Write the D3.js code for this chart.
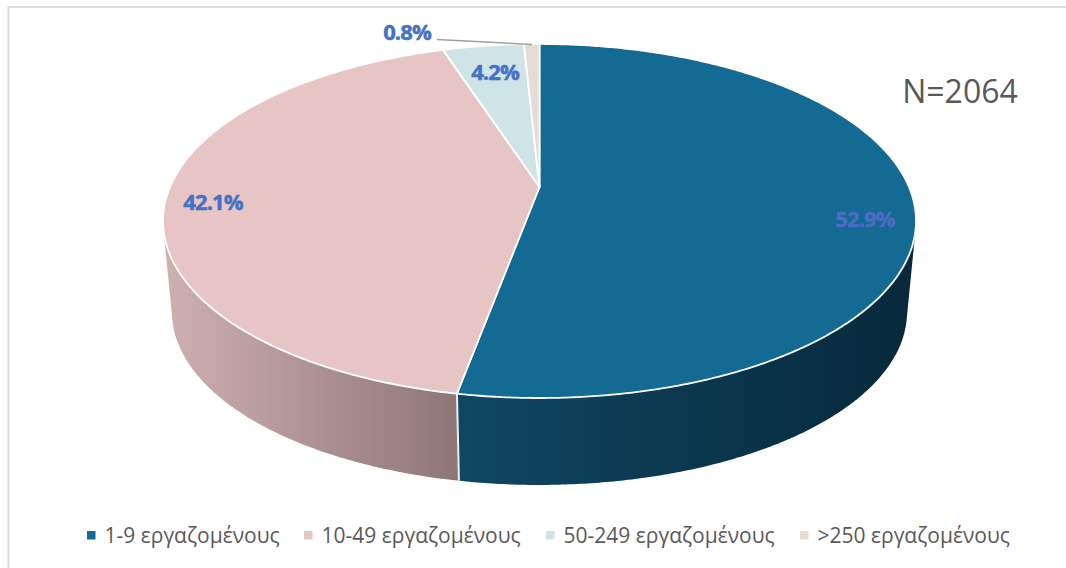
<!DOCTYPE html>
<html>
<head>
<meta charset="utf-8">
<script src="https://cdn.jsdelivr.net/npm/d3@7"></script>
<style>
html, body { margin: 0; padding: 0; background: #fff; }
svg { display: block; }
text { font-family: "Open Sans", sans-serif; }
</style>
</head>
<body>
<svg id="chart" width="1066" height="568"></svg>
<script>
const categories = ["1-9 εργαζομένους", "10-49 εργαζομένους", "50-249 εργαζομένους", ">250 εργαζομένους"];
const shares = [52.9, 42.1, 4.2, 0.8];
const faceColors = ["#136a92", "#e8c5c5", "#cfe4e6", "#e5dcd6"];
const wallFrom = ["#0f4763", "#cfb0b0", "#a0b4b6", "#b8b0aa"];
const wallTo = ["#07283a", "#8f7676", "#a0b4b6", "#b8b0aa"];
const sampleTotal = "N=2064";

const width = 1066, height = 568;
const apex = { x: 539.5, y: 187 };
// the tilted disc: a projective map of the unit circle, so the slice tips meet off-centre
const tilt = 0.192, spreadX = 369.5, spreadY = 170.5;
const wallDrop = 92, wallShrink = 0.976;

const svg = d3.select("#chart");

function project(r, angle, floor) {
    let X = r * Math.sin(angle), Y = -r * Math.cos(angle);
    let w = 1 - tilt * Y;
    let s = floor ? wallShrink : 1;
    return [
        apex.x + s * spreadX * X / w,
        apex.y + s * spreadY * Y / w + (floor ? wallDrop : 0)
    ];
}

function rim(a0, a1, floor) {
    let n = Math.max(2, Math.ceil(Math.abs(a1 - a0) * 120));
    return d3.range(n + 1).map(i => project(1, a0 + (a1 - a0) * i / n, floor));
}

const pie = d3.pie().sort(null).value(d => d);
const arcs = pie(shares);
const line = d3.line();

// frame
svg.append("rect")
    .attr("x", 8.5).attr("y", 7)
    .attr("width", 1080).attr("height", 600)
    .attr("fill", "none")
    .attr("stroke", "#dcdcdc").attr("stroke-width", 2);

const defs = svg.append("defs");
arcs.forEach((d, i) => {
    let xs = rim(d.startAngle, d.endAngle, false).map(p => p[0]);
    let grad = defs.append("linearGradient")
        .attr("id", "wall" + i)
        .attr("gradientUnits", "userSpaceOnUse")
        .attr("x1", d3.min(xs)).attr("x2", d3.max(xs))
        .attr("y1", 0).attr("y2", 0);
    grad.append("stop").attr("offset", 0).attr("stop-color", wallFrom[i]);
    grad.append("stop").attr("offset", 1).attr("stop-color", wallTo[i]);
});

// walls first, the top face hides whatever is behind it
const walls = svg.append("g");
arcs.forEach((d, i) => {
    let outline = d3.polygonHull(rim(d.startAngle, d.endAngle, false).concat(rim(d.startAngle, d.endAngle, true)));
    walls.append("path").attr("d", line(outline) + "Z").attr("fill", `url(#wall${i})`);
});
// white seam between the two visible walls
let seamAngle = arcs[0].endAngle;
walls.append("path")
    .attr("d", line([project(1, seamAngle, false), project(1, seamAngle, true)]))
    .attr("stroke", "#e8eef0").attr("stroke-width", 2).attr("fill", "none");

// top face
svg.append("g").selectAll("path")
    .data(arcs)
    .join("path")
    .attr("d", d => line([[apex.x, apex.y], ...rim(d.startAngle, d.endAngle, false)]) + "Z")
    .attr("fill", (d, i) => faceColors[i])
    .attr("stroke", "#fff")
    .attr("stroke-width", 1.8)
    .attr("stroke-linejoin", "round");

// data labels
const labelSpots = [[865, 219], [213, 202], [495, 72], [407, 32]];
const labelFill = "#4472c4";
svg.append("g").selectAll("text")
    .data(shares)
    .join("text")
    .attr("x", (d, i) => labelSpots[i][0])
    .attr("y", (d, i) => labelSpots[i][1])
    .attr("dy", "0.36em")
    .attr("text-anchor", "middle")
    .attr("font-size", 22)
    .attr("font-weight", 700)
    .attr("letter-spacing", -0.9)
    .attr("fill", (d, i) => i == 0 ? "#4c6cc4" : labelFill)
    .attr("stroke", (d, i) => i == 0 ? "#4c6cc4" : labelFill)
    .attr("stroke-width", 0.5)
    .text(d => d.toFixed(1) + "%");

// leader of the smallest slice
svg.append("path")
    .attr("d", line([[437, 39.5], [532, 44.5]]))
    .attr("stroke", "#a0a0a0").attr("stroke-width", 1.5).attr("fill", "none");

svg.append("text")
    .attr("x", 960).attr("y", 103)
    .attr("text-anchor", "middle")
    .attr("font-size", 32)
    .attr("fill", "#595959")
    .text(sampleTotal);

// legend
const legendX = [87, 304, 546, 800];
const legend = svg.append("g").selectAll("g")
    .data(categories)
    .join("g")
    .attr("transform", (d, i) => `translate(${legendX[i]},535)`);
legend.append("rect")
    .attr("x", 0).attr("y", -4).attr("width", 8.5).attr("height", 8.5)
    .attr("fill", (d, i) => faceColors[i]);
legend.append("text")
    .attr("x", 17.5).attr("dy", "0.36em")
    .attr("font-size", 21)
    .attr("fill", "#595959")
    .text(d => d);
</script>
</body>
</html>
